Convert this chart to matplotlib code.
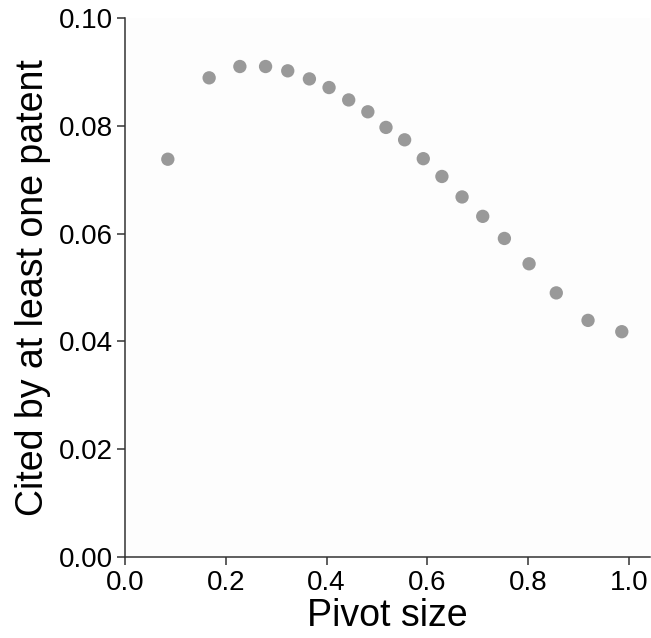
import matplotlib.pyplot as plt

plt.rcParams['font.family'] = ['Liberation Sans', 'DejaVu Sans']

# values
pivot_size = [0.085, 0.167, 0.228, 0.279, 0.323, 0.366, 0.405, 0.444, 0.482, 0.518,
              0.555, 0.592, 0.629, 0.669, 0.710, 0.753, 0.802, 0.856, 0.919, 0.986]
cited_share = [0.0738, 0.0889, 0.0910, 0.0910, 0.0902, 0.0887, 0.0871, 0.0848, 0.0826, 0.0797,
               0.0774, 0.0739, 0.0706, 0.0668, 0.0632, 0.0591, 0.0544, 0.0490, 0.0439, 0.0418]
x_ticks = [0.0, 0.2, 0.4, 0.6, 0.8, 1.0]
y_ticks = [0.00, 0.02, 0.04, 0.06, 0.08, 0.10]

fig = plt.figure(figsize=(6.51, 6.38), dpi=100)
ax = fig.add_axes([125 / 651, 1 - 557 / 638, 525 / 651, 539 / 638])
ax.set_facecolor('#fdfdfd')

ax.scatter(pivot_size, cited_share, s=92, color='#999999', edgecolors='none', zorder=3)

ax.set_xlim(0, 1.042)
ax.set_ylim(0, 0.10)
ax.set_xticks(x_ticks)
ax.set_xticklabels(['%.1f' % t for t in x_ticks])
ax.set_yticks(y_ticks)
ax.set_yticklabels(['%.2f' % t for t in y_ticks])

for side in ['top', 'right']:
    ax.spines[side].set_visible(False)
for side in ['left', 'bottom']:
    ax.spines[side].set_color('#333333')
    ax.spines[side].set_linewidth(1.1)

ax.tick_params(axis='both', labelsize=20, length=6, width=1.1, color='#333333', pad=3)
ax.set_xlabel('Pivot size', fontsize=27, labelpad=2)
ax.set_ylabel('Cited by at least one patent', fontsize=27, labelpad=5)

fig.savefig('out.png', dpi=100)
